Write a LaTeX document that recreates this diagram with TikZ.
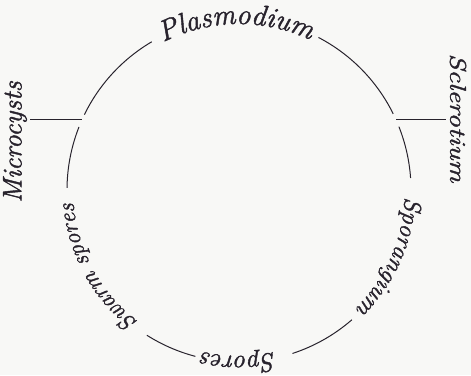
\documentclass[tikz,border=0pt]{standalone}
\usepackage{fontspec}
\usetikzlibrary{decorations.text,calc}
\newfontfamily\labfamily{Latin Modern Roman}[ItalicFeatures={FakeBold=1.5}]
\definecolor{ink}{RGB}{40,35,45}
\definecolor{paper}{RGB}{248,248,246}
\newcommand\lfont[1]{\fontsize{#1}{#1}\selectfont\labfamily\itshape\color{ink}}
\begin{document}
\begin{tikzpicture}[x=1pt,y=1pt,
  ring/.style={draw=ink, line width=1pt},
  tickline/.style={draw=ink, line width=1pt},
  lab/.style={text=ink, inner sep=0pt}]
\fill[paper] (0,0) rectangle (471,375);
\useasboundingbox (0,0) rectangle (471,375);
\coordinate (c) at (239,185);
\def\R{172}
\def\Rt{166}
% circle arcs
\draw[ring] ($(c)+(120.5:\R)$) arc[start angle=120.5,end angle=154,radius=\R];
\draw[ring] ($(c)+(158.5:\R)$) arc[start angle=158.5,end angle=179.3,radius=\R];
\draw[ring] ($(c)+(237.6:\R)$) arc[start angle=237.6,end angle=255.3,radius=\R];
\draw[ring] ($(c)+(288.1:\R)$) arc[start angle=288.1,end angle=311,radius=\R];
\draw[ring] ($(c)+(4:\R)$) arc[start angle=4,end angle=21.6,radius=\R];
\draw[ring] ($(c)+(26.3:\R)$) arc[start angle=26.3,end angle=62.5,radius=\R];
% labels along the circle
\foreach \ang/\sz/\txt in {91/29/Plasmodium, -24/24.5/Sporangium, -90.3/26/Spores, 208.5/23.5/Swarm spores}{
  \path[decorate,decoration={text along path,text align=center,text={|\lfont{\sz}|\txt}}]
    ($(c)+({\ang+35}:\Rt)$) arc[start angle=\ang+35,end angle=\ang-35,radius=\Rt];
}
% side labels
\node[lab, font=\lfont{27}, rotate=90] (micro) at (15,233) {Microcysts};
\node[lab, font=\lfont{28.5}, rotate=-90] (sclero) at (458,257) {\scalebox{1}[0.8]{Sclerotium}};
% ticks
\coordinate (mtip) at (30,255);
\coordinate (stip) at (446,255);
\coordinate (mring) at ($(c)+(156:\R)$);
\coordinate (sring) at ($(c)+(24:\R)$);
\draw[tickline] (mtip) -- (mtip -| mring);
\draw[tickline] (sring |- stip) -- (stip);
\end{tikzpicture}
\end{document}
